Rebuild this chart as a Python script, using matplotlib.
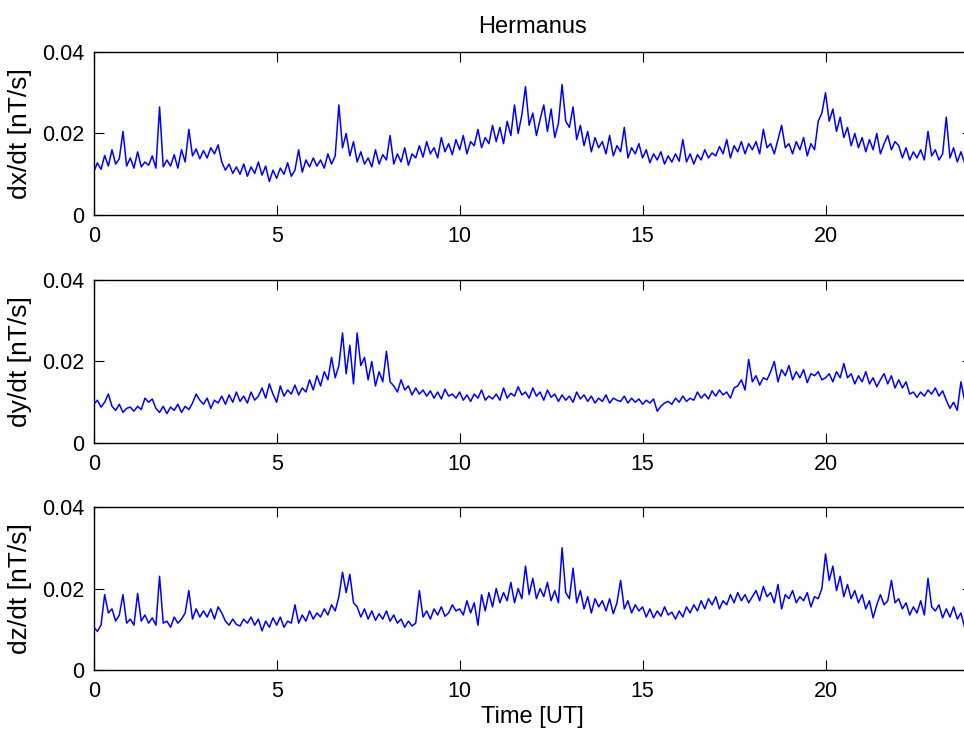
import numpy as np
import matplotlib
matplotlib.use('Agg')
import matplotlib.pyplot as plt

# time axis, 0.1 h steps over one day
hours = np.round(np.arange(0, 24.01, 0.1), 1)

# time derivatives, in 1e-3 nT/s
dx = [10.5, 12.8, 11.2, 14.6, 12.0, 16.0, 12.5, 13.8, 20.5, 12.0,
      14.0, 11.5, 15.5, 11.8, 13.0, 12.2, 14.5, 11.5, 26.5, 11.8,
      13.5, 12.0, 14.8, 11.5, 16.0, 13.0, 21.0, 14.5, 16.2, 13.8,
      15.8, 14.0, 16.5, 15.0, 17.2, 13.0, 11.0, 12.5, 10.2, 11.8,
      10.0, 12.5, 9.5, 11.8, 10.2, 13.0, 9.8, 12.0, 8.2, 11.0,
      9.0, 11.5, 10.0, 12.8, 9.5, 11.0, 16.0, 10.5, 13.5, 11.8,
      14.0, 12.0, 13.5, 11.5, 15.0, 12.5, 14.5, 27.0, 16.5, 20.0,
      14.5, 18.0, 13.0, 15.5, 12.5, 14.0, 11.8, 16.0, 12.5, 14.8,
      13.5, 19.5, 12.5, 15.0, 13.0, 16.5, 12.2, 15.0, 14.0, 17.0,
      14.2, 18.0, 15.0, 16.5, 14.0, 19.0, 15.5, 17.5, 14.8, 18.5,
      16.0, 19.5, 15.0, 18.0, 17.0, 21.0, 16.5, 19.0, 17.5, 22.0,
      18.0, 21.5, 17.5, 23.0, 19.5, 27.0, 20.0, 24.5, 31.5, 22.0,
      25.0, 19.5, 23.5, 27.0, 20.5, 26.0, 19.0, 22.5, 32.0, 23.0,
      21.5, 26.5, 18.5, 22.0, 17.0, 20.5, 15.5, 19.0, 16.5, 18.0,
      15.0, 19.5, 14.5, 17.0, 15.5, 21.5, 14.0, 16.5, 15.0, 17.5,
      14.0, 16.0, 12.8, 15.0, 13.5, 15.5, 12.5, 14.5, 13.0, 15.0,
      13.2, 18.5, 13.0, 15.0, 12.5, 14.8, 13.5, 16.0, 14.0, 15.2,
      14.5, 16.8, 15.0, 18.5, 14.0, 17.0, 15.5, 18.0, 15.0, 17.5,
      16.0, 18.0, 15.0, 21.0, 16.5, 17.5, 15.0, 18.5, 22.0, 16.5,
      17.5, 15.0, 18.0, 16.0, 19.0, 14.5, 17.5, 16.0, 23.0, 25.0,
      30.0, 23.0, 26.0, 20.5, 24.0, 19.0, 21.5, 17.0, 20.0, 16.5,
      19.0, 15.5, 18.5, 16.0, 20.0, 15.0, 17.5, 19.5, 16.0, 18.0,
      17.0, 14.0, 16.5, 13.5, 15.5, 14.0, 16.0, 13.5, 20.5, 14.5,
      16.0, 13.5, 15.0, 24.0, 14.0, 16.5, 13.0, 15.5, 12.8, 14.0,
      13.0]

dy = [9.5, 10.5, 8.8, 10.0, 12.0, 9.0, 8.0, 9.5, 7.5, 8.5,
      8.8, 7.8, 9.0, 8.2, 11.0, 10.0, 10.8, 8.5, 7.5, 9.0,
      7.2, 8.8, 8.0, 9.5, 7.5, 9.0, 8.2, 9.8, 12.0, 10.5,
      9.5, 11.0, 8.5, 10.5, 9.8, 11.5, 9.5, 11.8, 10.0, 12.5,
      10.2, 11.5, 9.8, 12.5, 10.5, 11.5, 13.5, 11.0, 14.5, 12.0,
      10.0, 14.0, 11.5, 13.0, 12.0, 14.2, 11.8, 13.5, 12.5, 15.5,
      13.0, 16.5, 14.0, 17.5, 15.5, 21.0, 16.0, 19.0, 27.0, 17.0,
      24.0, 14.5, 27.0, 19.0, 21.0, 15.5, 20.0, 14.0, 17.5, 15.0,
      22.5, 15.0, 14.0, 12.5, 15.5, 13.0, 14.0, 11.8, 13.5, 12.0,
      13.0, 11.5, 12.8, 11.0, 12.5, 10.8, 13.2, 11.5, 12.0, 11.0,
      12.5, 10.5, 11.8, 10.2, 12.0, 11.0, 13.0, 10.5, 11.5, 10.8,
      12.0, 10.5, 13.5, 11.0, 12.2, 11.5, 13.8, 11.8, 12.5, 11.0,
      13.5, 11.5, 12.5, 10.5, 13.0, 11.2, 12.0, 10.2, 11.8, 10.5,
      11.5, 10.0, 12.5, 10.8, 11.8, 10.2, 11.5, 9.8, 11.0, 10.2,
      11.8, 9.8, 11.0, 10.5, 10.2, 11.5, 9.8, 11.0, 10.0, 10.8,
      9.5, 10.5, 9.8, 10.8, 7.8, 9.0, 9.8, 10.2, 9.5, 11.0,
      10.0, 11.5, 10.2, 11.0, 10.5, 12.5, 11.0, 12.0, 10.8, 12.8,
      11.5, 13.0, 11.8, 12.5, 11.0, 13.5, 14.0, 15.5, 13.0, 20.5,
      15.0, 16.5, 14.2, 16.0, 15.5, 17.5, 20.0, 15.0, 18.0, 16.5,
      19.0, 15.5, 17.5, 16.0, 18.0, 14.8, 17.0, 16.5, 17.5, 15.5,
      16.0, 17.0, 15.0, 17.5, 16.0, 19.5, 16.0, 17.0, 14.5, 16.5,
      15.0, 17.5, 14.5, 16.0, 13.8, 15.5, 17.0, 14.5, 16.5, 13.5,
      15.5, 13.5, 15.0, 12.0, 12.5, 11.2, 12.5, 11.5, 13.0, 12.0,
      13.5, 11.5, 12.8, 10.5, 8.5, 10.0, 8.0, 15.0, 10.5, 8.8,
      9.0]

dz = [10.5, 9.5, 11.0, 18.5, 14.0, 15.0, 12.0, 13.5, 18.5, 11.5,
      12.5, 11.0, 18.8, 12.0, 13.5, 11.5, 12.8, 11.0, 23.0, 11.5,
      12.0, 10.5, 13.0, 11.5, 12.5, 14.0, 19.5, 12.5, 15.0, 13.0,
      14.5, 13.0, 15.0, 12.5, 15.5, 14.0, 12.0, 11.0, 12.5, 11.2,
      10.8, 12.5, 11.5, 13.0, 11.0, 12.5, 9.6, 12.0, 10.5, 12.8,
      11.0, 13.0, 10.5, 12.0, 11.5, 16.0, 11.5, 13.5, 12.0, 14.5,
      12.5, 14.0, 13.0, 15.0, 13.5, 16.0, 14.5, 18.0, 24.0, 19.0,
      23.5, 16.5, 15.5, 13.0, 15.0, 12.5, 14.5, 12.2, 13.8, 12.5,
      14.5, 12.0, 13.5, 11.5, 12.5, 10.5, 12.0, 10.8, 11.5, 19.5,
      13.0, 14.5, 12.5, 15.0, 13.5, 15.5, 13.2, 14.0, 16.0, 14.5,
      15.0, 13.5, 17.0, 14.0, 16.5, 11.0, 18.5, 14.5, 19.0, 15.5,
      20.0, 16.5, 19.0, 17.0, 21.5, 16.5, 20.0, 17.5, 25.5, 18.5,
      22.5, 17.5, 20.0, 18.0, 21.5, 17.0, 19.5, 16.5, 30.0, 19.0,
      17.5, 25.0, 16.5, 19.5, 15.0, 18.0, 14.0, 17.5, 15.5, 17.0,
      14.5, 17.5, 13.8, 16.5, 22.0, 15.0, 17.0, 14.0, 16.0, 14.5,
      15.5, 13.0, 15.0, 12.8, 14.5, 13.2, 15.5, 13.5, 14.2, 12.5,
      14.5, 13.0, 15.5, 14.0, 16.0, 14.5, 17.0, 15.0, 17.5, 16.0,
      18.0, 15.0, 17.0, 16.0, 18.5, 16.5, 19.0, 17.0, 18.5, 16.5,
      18.0, 19.5, 17.0, 20.5, 18.0, 19.0, 16.5, 21.0, 15.0, 18.5,
      17.5, 19.5, 16.5, 18.0, 17.0, 19.0, 15.5, 18.0, 17.5, 20.0,
      28.5, 22.0, 25.5, 19.5, 23.0, 18.0, 21.0, 17.5, 19.5, 16.5,
      18.5, 15.0, 17.0, 12.8, 16.0, 18.5, 16.0, 17.0, 22.0, 16.5,
      17.5, 15.0, 16.5, 13.5, 15.5, 14.0, 17.0, 13.5, 22.5, 15.5,
      14.5, 16.0, 12.8, 15.0, 13.0, 15.5, 12.5, 14.0, 10.5, 12.5,
      12.0]

series = [dx, dy, dz]
ylabels = ['dx/dt [nT/s]', 'dy/dt [nT/s]', 'dz/dt [nT/s]']
xticks = [0, 5, 10, 15, 20]
yticks = [0, 0.02, 0.04]
yticklabels = ['0', '0.02', '0.04']

plt.rcParams['font.family'] = ['Liberation Sans', 'DejaVu Sans']

fig = plt.figure(figsize=(9.64, 7.35), dpi=100)
bottoms = [0.7075, 0.3973, 0.0884]

for i, (vals, lab, b) in enumerate(zip(series, ylabels, bottoms)):
    ax = fig.add_axes([0.0972, b, 0.911, 0.2218])
    ax.plot(hours, np.array(vals) * 1e-3, color='#0000ff', lw=1.1)
    ax.set_xlim(0, 24)
    ax.set_ylim(0, 0.04)
    ax.set_xticks(xticks)
    ax.set_yticks(yticks)
    ax.set_yticklabels(yticklabels)
    ax.tick_params(direction='in', length=7, width=0.8, top=True, right=True,
                   labelsize=15.5)
    ax.tick_params(axis='x', pad=8)
    ax.tick_params(axis='y', pad=7)
    for sp in ax.spines.values():
        sp.set_linewidth(1.0)
    ax.set_ylabel(lab, fontsize=19, labelpad=7)
    if i == 0:
        ax.set_title('Hermanus', fontsize=17, pad=14)
    if i == 2:
        ax.set_xlabel('Time [UT]', fontsize=17, labelpad=3)

fig.savefig('out.png', dpi=100)
